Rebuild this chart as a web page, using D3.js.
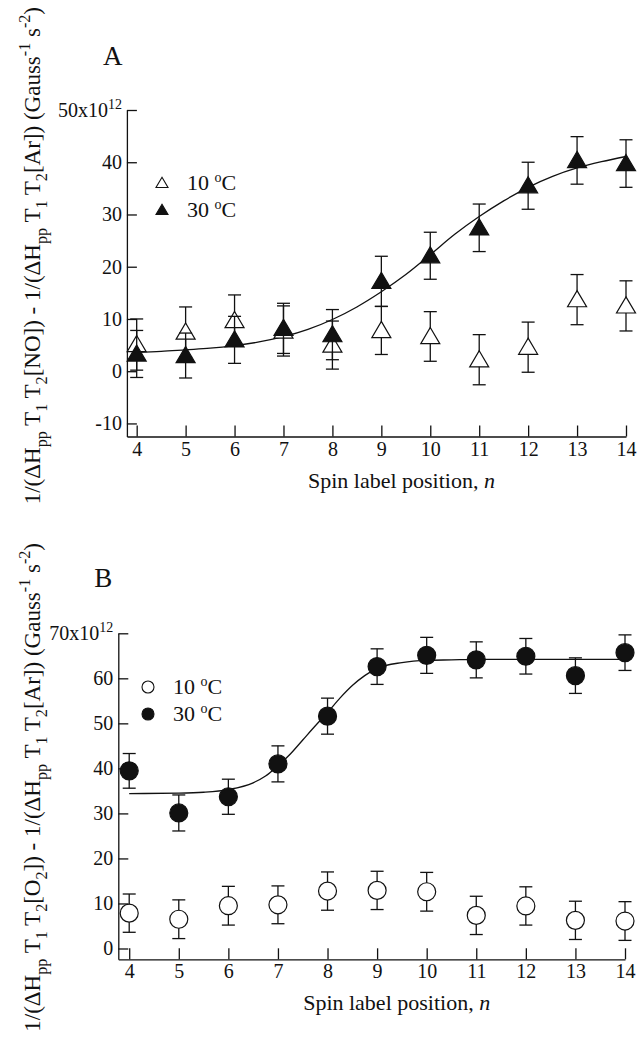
<!DOCTYPE html>
<html>
<head>
<meta charset="utf-8">
<script src="https://cdn.jsdelivr.net/npm/d3@7"></script>
<style>
  body { margin: 0; background: #fff; }
  text { font-family: "Liberation Serif", "Times New Roman", serif; fill: #111; }
  .axis path, .axis line { stroke: #111; stroke-width: 1.3; }
  .axis text { font-family: "Liberation Serif", "Times New Roman", serif; font-size: 20px; fill: #111; }
</style>
</head>
<body>
<svg class="chart"></svg>
<script>
var nPos = [4, 5, 6, 7, 8, 9, 10, 11, 12, 13, 14];

// panel A (NO)
var a10 = [5.1, 7.5, 9.7, 7.7, 5.0, 7.8, 6.65, 2.2, 4.6, 13.7, 12.5];
var a10err = [4.9, 4.8, 4.9, 4.8, 4.6, 4.6, 4.75, 4.8, 4.8, 4.8, 4.8];
var a30 = [3.3, 3.0, 6.0, 8.2, 7.0, 17.2, 22.1, 27.45, 35.5, 40.35, 39.75];
var a30err = [4.5, 4.3, 4.5, 4.8, 4.8, 4.8, 4.5, 4.55, 4.5, 4.55, 4.55];
var fitAx = [4, 4.5, 5, 5.5, 6, 6.5, 7, 7.5, 8, 8.5, 9, 9.5, 10, 10.5, 11, 11.5, 12, 12.5, 13, 13.5, 14];
var fitAy = [3.6, 3.8, 4.1, 4.4, 4.9, 5.6, 6.6, 8.0, 9.9, 12.3, 15.2, 18.5, 22.3, 26.2, 29.6, 32.6, 35.2, 37.3, 38.9, 40.1, 41.1];
var aTicks = [-10, 0, 10, 20, 30, 40, 50];

// panel B (O2)
var b10 = [7.85, 6.5, 9.5, 9.7, 12.75, 12.9, 12.6, 7.35, 9.45, 6.25, 6.1];
var b10err = [4.25, 4.3, 4.3, 4.2, 4.25, 4.25, 4.3, 4.25, 4.25, 4.25, 4.3];
var b30 = [39.45, 30.1, 33.7, 41.0, 51.6, 62.6, 65.1, 64.1, 64.9, 60.6, 65.7];
var b30err = [3.85, 4.0, 3.9, 4.0, 4.0, 3.95, 4.0, 4.0, 3.95, 3.95, 3.95];
var fitBx = [4, 5, 5.5, 6, 6.5, 6.75, 7, 7.25, 7.5, 7.75, 8, 8.25, 8.5, 8.75, 9, 9.5, 10, 10.5, 11, 12, 13, 14];
var fitBy = [34.4, 34.5, 34.7, 35.3, 36.8, 38.3, 40.6, 43.2, 46.3, 49.4, 52.4, 55.6, 58.4, 60.6, 62.2, 63.5, 64.0, 64.1, 64.2, 64.2, 64.2, 64.2];
var bTicks = [0, 10, 20, 30, 40, 50, 60, 70];

var legendLabels = ["10", "30"];

var labelA = [["1/(ΔH",""],["pp","sub"],[" T",""],["1","sub"],[" T",""],["2","sub"],["[NO]) - 1/(ΔH",""],["pp","sub"],[" T",""],["1","sub"],[" T",""],["2","sub"],["[Ar]) (Gauss",""],["-1","sup"],[" s",""],["-2","sup"],[")",""]];
var labelB = [["1/(ΔH",""],["pp","sub"],[" T",""],["1","sub"],[" T",""],["2","sub"],["[O",""],["2","sub"],["]) - 1/(ΔH",""],["pp","sub"],[" T",""],["1","sub"],[" T",""],["2","sub"],["[Ar]) (Gauss",""],["-1","sup"],[" s",""],["-2","sup"],[")",""]];

var svg = d3.select(".chart")
    .attr("width", 638)
    .attr("height", 1053);

svg.append("rect").attr("width", 638).attr("height", 1053).attr("fill", "#fff");

function richText(sel, parts, fs) {
  var shift = 0;
  parts.forEach(function(p) {
    var target = p[1] == "sub" ? fs * 0.32 : p[1] == "sup" ? -fs * 0.42 : 0;
    var t = sel.append("tspan").text(p[0]).attr("dy", target - shift);
    if (p[1]) t.attr("font-size", fs * 0.7);
    shift = target;
  });
}

function triangle(s) {
  return "M0," + (-s * 0.95) + "L" + s + "," + (s * 0.75) + "L" + (-s) + "," + (s * 0.75) + "Z";
}

function panel(cfg) {
  var x = d3.scaleLinear().domain(cfg.xdom).range(cfg.xr);
  var y = d3.scaleLinear().domain(cfg.ydom).range(cfg.yr);

  var g = svg.append("g");

  g.append("g")
    .attr("class", "axis")
    .attr("transform", "translate(0," + cfg.yr[0] + ")")
    .call(d3.axisBottom(x).tickValues(nPos).tickFormat(function(d) { return String(d); })
      .tickSizeInner(-11).tickSizeOuter(0).tickPadding(5));

  var yAx = g.append("g")
    .attr("class", "axis")
    .attr("transform", "translate(" + cfg.xr[0] + ",0)")
    .call(d3.axisLeft(y).tickValues(cfg.ticks).tickFormat(function(d) { return String(d); })
      .tickSizeInner(-10).tickSizeOuter(0).tickPadding(5));

  // top tick written as N x 10^12
  var top = cfg.ticks[cfg.ticks.length - 1];
  yAx.selectAll(".tick text").filter(function(d) { return d == top; })
    .each(function(d) {
      var t = d3.select(this).text(d + "x10");
      t.append("tspan").attr("dy", -8).attr("font-size", 14).text("12");
    });

  // fit curve
  var fit = d3.line()
    .x(function(d, i) { return x(cfg.fitx[i]); })
    .y(function(d) { return y(d); })
    .curve(d3.curveMonotoneX);

  g.append("path")
    .datum(cfg.fity)
    .attr("fill", "none")
    .attr("stroke", "#111")
    .attr("stroke-width", 1.3)
    .attr("d", fit);

  [[cfg.lo, cfg.loErr, "#fff"], [cfg.hi, cfg.hiErr, "#111"]].forEach(function(s) {
    var vals = s[0], errs = s[1];
    var eb = g.append("g").attr("stroke", "#111").attr("stroke-width", 1.3);
    vals.forEach(function(v, i) {
      var cx = x(nPos[i]);
      eb.append("line").attr("x1", cx).attr("x2", cx)
        .attr("y1", y(v - errs[i])).attr("y2", y(v + errs[i]));
      eb.append("line").attr("x1", cx - 6.5).attr("x2", cx + 6.5)
        .attr("y1", y(v - errs[i])).attr("y2", y(v - errs[i]));
      eb.append("line").attr("x1", cx - 6.5).attr("x2", cx + 6.5)
        .attr("y1", y(v + errs[i])).attr("y2", y(v + errs[i]));
    });

    var m = g.append("g").selectAll(".m")
      .data(vals)
      .enter();
    if (cfg.shape == "tri") {
      m.append("path")
        .attr("d", triangle(9.5))
        .attr("transform", function(d, i) { return "translate(" + x(nPos[i]) + "," + y(d) + ")"; })
        .attr("fill", s[2])
        .attr("stroke", "#111")
        .attr("stroke-width", 1.2);
    } else {
      m.append("circle")
        .attr("cx", function(d, i) { return x(nPos[i]); })
        .attr("cy", function(d) { return y(d); })
        .attr("r", 9)
        .attr("fill", s[2])
        .attr("stroke", "#111")
        .attr("stroke-width", 1.2);
    }
  });

  // legend
  legendLabels.forEach(function(l, i) {
    var ly = cfg.legY + i * 27;
    if (cfg.shape == "tri") {
      g.append("path").attr("d", triangle(6))
        .attr("transform", "translate(" + cfg.legX + "," + ly + ")")
        .attr("fill", i ? "#111" : "#fff").attr("stroke", "#111").attr("stroke-width", 1.1);
    } else {
      g.append("circle").attr("cx", cfg.legX).attr("cy", ly).attr("r", 6)
        .attr("fill", i ? "#111" : "#fff").attr("stroke", "#111").attr("stroke-width", 1.1);
    }
    var t = g.append("text")
      .attr("x", cfg.legX + 25)
      .attr("y", ly + 7)
      .style("font-size", "22px")
      .text(l + " ");
    t.append("tspan").attr("dy", -8).attr("font-size", 14).text("o");
    t.append("tspan").attr("dy", 8).text("C");
  });

  // panel letter
  g.append("text")
    .attr("x", cfg.xr[0] - 24)
    .attr("y", cfg.letterY)
    .style("font-size", "27px")
    .text(cfg.letter);

  // x title
  var xt = g.append("text")
    .attr("x", (cfg.xr[0] + cfg.xr[1]) / 2 + 25)
    .attr("y", cfg.yr[0] + 51)
    .attr("text-anchor", "middle")
    .style("font-size", "22px")
    .text("Spin label position, ");
  xt.append("tspan").style("font-style", "italic").text("n");

  // y title
  var yt = g.append("text")
    .attr("transform", "translate(40," + cfg.yLabEnd + ") rotate(-90)")
    .attr("text-anchor", "end")
    .style("font-size", "23px");
  richText(yt, cfg.ylab, 23);
}

panel({
  xdom: [3.8, 14], xr: [126.9, 626],
  ydom: [-12.5, 50], yr: [436.5, 110],
  ticks: aTicks, fitx: fitAx, fity: fitAy,
  lo: a10, loErr: a10err, hi: a30, hiErr: a30err,
  shape: "tri", legX: 162, legY: 183,
  letter: "A", letterY: 65, yLabEnd: 7, ylab: labelA
});

panel({
  xdom: [3.78, 14], xr: [118.3, 625],
  ydom: [-2.4, 70], yr: [959.3, 633.3],
  ticks: bTicks, fitx: fitBx, fity: fitBy,
  lo: b10, loErr: b10err, hi: b30, hiErr: b30err,
  shape: "circ", legX: 148, legY: 687,
  letter: "B", letterY: 587, yLabEnd: 543, ylab: labelB
});
</script>
</body>
</html>
